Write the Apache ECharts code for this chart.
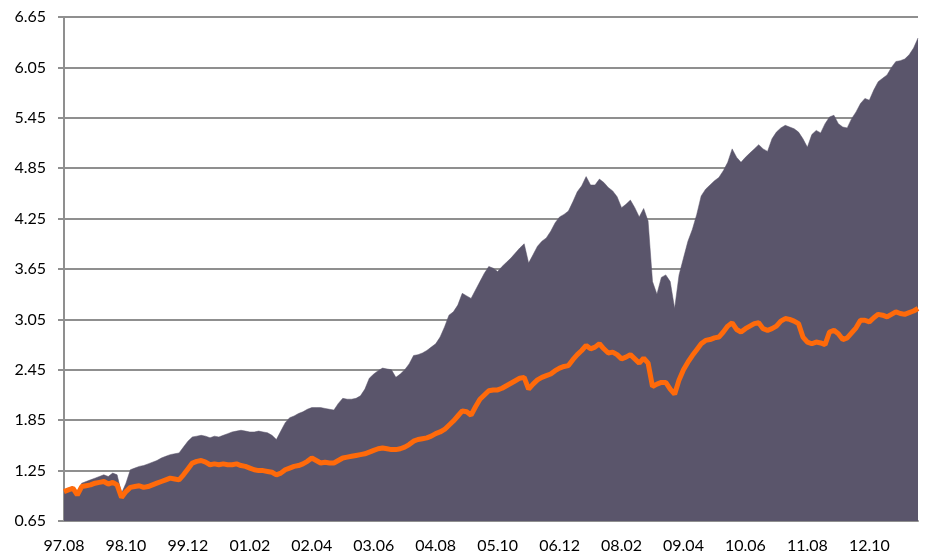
<!DOCTYPE html>
<html>
<head>
<meta charset="utf-8">
<script src="https://cdn.jsdelivr.net/npm/echarts@6/dist/echarts.min.js"></script>
<style>html,body{margin:0;padding:0;background:#fff;}#c{width:927px;height:556px;}</style>
</head>
<body>
<div id="c"></div>
<script>
// Monthly categories from 1997.08 to 2013.09 (YY.MM)
const startYear = 1997, startMonth = 8, monthCount = 194;
const categories = [];
for (let i = 0; i < monthCount; i++) {
  const t = (startMonth - 1) + i;
  const y = (startYear + Math.floor(t / 12)) % 100;
  const m = (t % 12) + 1;
  categories.push(String(y).padStart(2, '0') + '.' + String(m).padStart(2, '0'));
}
// Tick labels shown on the x axis (every 14 months)
const xTickLabels = ['97.08','98.10','99.12','01.02','02.04','03.06','04.08','05.10','06.12','08.02','09.04','10.06','11.08','12.10'];
const yTickLabels = [0.65,1.25,1.85,2.45,3.05,3.65,4.25,4.85,5.45,6.05,6.65];

// Area series (dark)
const areaValues = [
1.02,1.04,1.06,1.00,1.10,1.12,1.14,1.16,1.18,1.20,1.18,1.22,1.20,0.98,1.10,1.26,1.28,1.30,1.31,1.33,
1.35,1.37,1.40,1.42,1.44,1.45,1.46,1.53,1.60,1.65,1.66,1.67,1.66,1.64,1.66,1.65,1.67,1.69,1.71,1.72,
1.73,1.72,1.71,1.71,1.72,1.71,1.70,1.67,1.62,1.72,1.82,1.88,1.90,1.93,1.95,1.98,2.00,2.00,2.00,1.99,
1.98,1.97,2.05,2.11,2.10,2.10,2.11,2.14,2.22,2.35,2.40,2.44,2.47,2.46,2.45,2.36,2.40,2.45,2.52,2.62,
2.63,2.65,2.68,2.72,2.76,2.84,2.96,3.10,3.14,3.22,3.36,3.33,3.30,3.40,3.50,3.60,3.68,3.66,3.62,3.68,
3.73,3.78,3.84,3.90,3.95,3.72,3.82,3.92,3.98,4.02,4.10,4.20,4.27,4.30,4.34,4.45,4.57,4.64,4.75,4.65,
4.65,4.72,4.68,4.62,4.58,4.51,4.38,4.42,4.47,4.38,4.27,4.37,4.22,3.50,3.35,3.55,3.58,3.50,3.18,3.58,
3.78,3.98,4.12,4.30,4.52,4.60,4.65,4.70,4.74,4.82,4.92,5.08,4.98,4.92,4.98,5.03,5.08,5.13,5.08,5.05,
5.20,5.28,5.33,5.36,5.34,5.32,5.28,5.20,5.10,5.25,5.30,5.27,5.38,5.46,5.48,5.38,5.34,5.33,5.44,5.52,
5.62,5.68,5.66,5.78,5.88,5.92,5.96,6.05,6.12,6.13,6.15,6.20,6.28,6.40
];
// Line series (orange)
const lineValues = [
1.00,1.02,1.04,0.96,1.06,1.07,1.08,1.10,1.11,1.12,1.09,1.11,1.08,0.93,1.00,1.05,1.06,1.07,1.05,1.06,
1.08,1.10,1.12,1.14,1.16,1.15,1.14,1.20,1.27,1.34,1.36,1.37,1.35,1.32,1.33,1.32,1.33,1.32,1.32,1.33,
1.31,1.30,1.28,1.26,1.25,1.25,1.24,1.23,1.20,1.22,1.26,1.28,1.30,1.31,1.33,1.36,1.40,1.37,1.34,1.35,
1.34,1.34,1.37,1.40,1.41,1.42,1.43,1.44,1.45,1.47,1.49,1.51,1.52,1.51,1.50,1.50,1.51,1.53,1.56,1.60,
1.62,1.63,1.64,1.66,1.69,1.71,1.74,1.79,1.84,1.90,1.96,1.95,1.91,2.01,2.10,2.15,2.20,2.21,2.21,2.23,
2.26,2.29,2.32,2.35,2.36,2.22,2.28,2.33,2.36,2.38,2.40,2.44,2.47,2.49,2.50,2.57,2.63,2.68,2.74,2.70,
2.72,2.76,2.70,2.65,2.66,2.63,2.58,2.60,2.63,2.58,2.53,2.59,2.53,2.25,2.28,2.30,2.30,2.22,2.16,2.33,
2.45,2.54,2.62,2.69,2.76,2.80,2.81,2.83,2.84,2.90,2.97,3.01,2.93,2.90,2.94,2.97,3.00,3.01,2.94,2.92,
2.94,2.97,3.03,3.06,3.05,3.03,3.00,2.84,2.78,2.76,2.78,2.77,2.75,2.90,2.92,2.88,2.81,2.83,2.89,2.95,
3.04,3.04,3.02,3.07,3.11,3.10,3.08,3.11,3.14,3.12,3.11,3.13,3.15,3.18
];

const chart = echarts.init(document.getElementById('c'), null, {renderer: 'canvas'});
const font = 'Lato, "Open Sans", sans-serif';
chart.setOption({
  animation: false,
  backgroundColor: '#ffffff',
  grid: {left: 64, right: 9, top: 17, bottom: 35, containLabel: false},
  xAxis: {
    type: 'category',
    data: categories,
    boundaryGap: false,
    axisLine: {show: true, lineStyle: {color: '#8f8f8f', width: 2}},
    axisTick: {show: false},
    axisLabel: {
      interval: 13, margin: 17, color: '#000', fontSize: 16, fontFamily: font,
      formatter: v => xTickLabels.includes(v) ? v : ''
    },
    splitLine: {show: false}
  },
  yAxis: {
    type: 'value',
    min: 0.65, max: 6.65, interval: 0.6,
    axisLine: {show: true, lineStyle: {color: '#8f8f8f', width: 2}},
    axisTick: {show: true, length: 6, lineStyle: {color: '#8f8f8f', width: 2}},
    axisLabel: {
      margin: 18, color: '#000', fontSize: 16, fontFamily: font,
      formatter: v => {
        const t = yTickLabels.find(x => Math.abs(x - v) < 1e-6);
        return t !== undefined ? t.toFixed(2) : '';
      }
    },
    splitLine: {show: true, lineStyle: {color: '#8f8f8f', width: 2}}
  },
  series: [
    {
      name: 'area', type: 'line', data: areaValues, symbol: 'none',
      lineStyle: {width: 0.5, color: '#5a556b'},
      areaStyle: {color: '#5a556b', opacity: 1, origin: 'start'},
      z: 2
    },
    {
      name: 'line', type: 'line', data: lineValues, symbol: 'none',
      lineStyle: {width: 5, color: '#ff6a0a'},
      z: 3
    }
  ]
});
</script>
</body>
</html>
